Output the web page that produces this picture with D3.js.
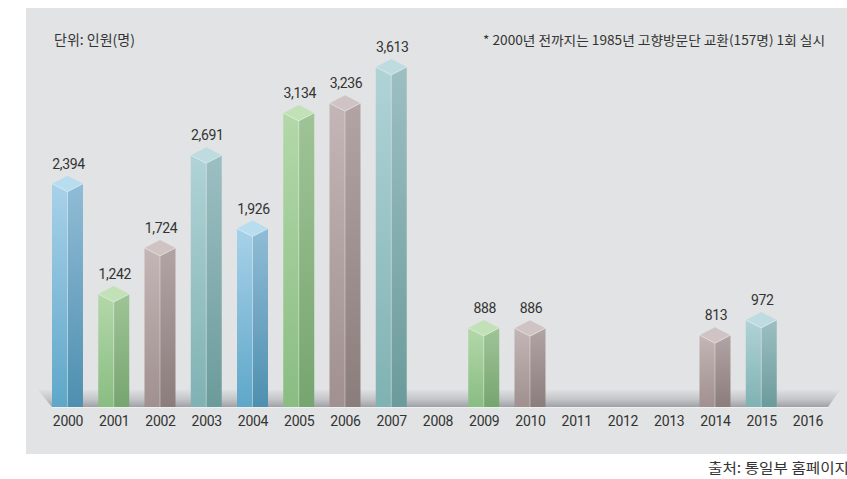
<!DOCTYPE html>
<html>
<head>
<meta charset="utf-8">
<script src="https://cdn.jsdelivr.net/npm/d3@7"></script>
<style>
  html, body { margin: 0; padding: 0; background: #ffffff; }
  svg { display: block; }
</style>
</head>
<body>
<svg id="chart" width="847" height="479"></svg>
<script>
// Visitors per year (persons); null = no exchange that year
const years = ["2000","2001","2002","2003","2004","2005","2006","2007","2008",
               "2009","2010","2011","2012","2013","2014","2015","2016"];
const visitors = [2394, 1242, 1724, 2691, 1926, 3134, 3236, 3613, null,
                  888, 886, null, null, null, 813, 972, null];

const unitText = "단위: 인원(명)";
const noteText = "* 2000년 전까지는 1985년 고향방문단 교환(157명) 1회 실시";
const sourceText = "출처: 통일부 홈페이지";

// Four-colour cycle for the prisms: [top face, left face top/bottom, right face top/bottom]
const palette = [
  { top: "#b8ddef", l0: "#a8d1e9", l1: "#5ea7c9", r0: "#90bcd6", r1: "#4e8fb0" }, // blue
  { top: "#c2e1b7", l0: "#b3d8a9", l1: "#89bd82", r0: "#9fc497", r1: "#76a56f" }, // green
  { top: "#d0c3c3", l0: "#c4b6b6", l1: "#a09090", r0: "#b2a4a4", r1: "#8c7d7d" }, // mauve
  { top: "#bedcdf", l0: "#b0d3d6", l1: "#80b2b3", r0: "#9cbfc2", r1: "#6c9b9c" }  // teal
];

const svg = d3.select("#chart");
const defs = svg.append("defs");

// Background panel
svg.append("rect").attr("x", 26).attr("y", 8).attr("width", 821).attr("height", 446)
  .attr("fill", "#e2e3e4");

// Floor band gradient
const fg = defs.append("linearGradient").attr("id", "floorGrad")
  .attr("x1", 0).attr("y1", 0).attr("x2", 0).attr("y2", 1);
fg.append("stop").attr("offset", 0).attr("stop-color", "#dedfe1");
fg.append("stop").attr("offset", 0.55).attr("stop-color", "#c4c5c8");
fg.append("stop").attr("offset", 1).attr("stop-color", "#9fa1a5");

// Face gradients per colour
palette.forEach((p, i) => {
  [["l", p.l0, p.l1], ["r", p.r0, p.r1]].forEach(([side, c0, c1]) => {
    const g = defs.append("linearGradient").attr("id", `g${side}${i}`)
      .attr("x1", 0).attr("y1", 0).attr("x2", 0).attr("y2", 1);
    g.append("stop").attr("offset", 0).attr("stop-color", c0);
    g.append("stop").attr("offset", 1).attr("stop-color", c1);
  });
});

const baseY = 407;
const x = d3.scalePoint().domain(years).range([67.5, 807.5]);
const y = d3.scaleLinear().domain([0, 4000]).range([405, 22]);
const hw = x.step() * 0.335;   // half width of a prism
const dy = 8;                  // vertical depth of the top rhombus

// Floor band
svg.append("path")
  .attr("d", `M38,390 L840,390 L828,${baseY} L52,${baseY} Z`)
  .attr("fill", "url(#floorGrad)");
svg.append("line").attr("x1", 52).attr("x2", 828).attr("y1", baseY + 0.5).attr("y2", baseY + 0.5)
  .attr("stroke", "#eef0f1").attr("stroke-width", 1);

const data = years.map((yr, i) => ({ year: yr, value: visitors[i], c: i % 4 }))
  .filter(d => d.value != null);

const bars = svg.append("g").selectAll("g").data(data).join("g");

bars.each(function(d) {
  const g = d3.select(this);
  const cx = x(d.year);
  const apex = y(d.value);
  const side = apex + dy;
  const front = apex + 2 * dy;
  const p = palette[d.c];
  g.append("path")
    .attr("d", `M${cx - hw},${side} L${cx},${front} L${cx},${baseY} L${cx - hw},${baseY} Z`)
    .attr("fill", `url(#gl${d.c})`);
  g.append("path")
    .attr("d", `M${cx},${front} L${cx + hw},${side} L${cx + hw},${baseY} L${cx},${baseY} Z`)
    .attr("fill", `url(#gr${d.c})`);
  g.append("path")
    .attr("d", `M${cx - hw},${side} L${cx},${apex} L${cx + hw},${side} L${cx},${front} Z`)
    .attr("fill", p.top);
  // light edges
  g.append("path")
    .attr("d", `M${cx - hw},${side} L${cx},${front} L${cx + hw},${side} M${cx},${front} L${cx},${baseY}`)
    .attr("fill", "none").attr("stroke", "rgba(255,255,255,0.45)").attr("stroke-width", 0.8);
  g.append("text")
    .attr("x", cx + 1).attr("y", apex - 7)
    .attr("text-anchor", "middle")
    .attr("font-family", "Roboto, sans-serif").attr("font-size", 14)
    .attr("letter-spacing", -0.3)
    .attr("fill", "#333333")
    .text(d3.format(",")(d.value));
});

// Year axis
const axis = svg.append("g").attr("transform", `translate(0,${baseY})`)
  .call(d3.axisBottom(x).tickSize(0).tickPadding(9));
axis.select(".domain").remove();
axis.selectAll("text")
  .attr("font-family", "Roboto, sans-serif").attr("font-size", 14)
  .attr("letter-spacing", -0.3)
  .attr("fill", "#333333");

// Unit, note and source
const kr = "'Noto Sans CJK KR', 'Noto Sans', sans-serif";
svg.append("text").attr("x", 54).attr("y", 45)
  .attr("font-family", kr).attr("font-size", 14).attr("fill", "#333333")
  .text(unitText);
svg.append("text").attr("x", 483).attr("y", 45)
  .attr("font-family", kr).attr("font-size", 13).attr("fill", "#333333")
  .attr("textLength", 342).attr("lengthAdjust", "spacingAndGlyphs")
  .text(noteText);
svg.append("text").attr("x", 708).attr("y", 473)
  .attr("font-family", kr).attr("font-size", 14).attr("fill", "#333333")
  .attr("textLength", 141).attr("lengthAdjust", "spacingAndGlyphs")
  .text(sourceText);
</script>
</body>
</html>
